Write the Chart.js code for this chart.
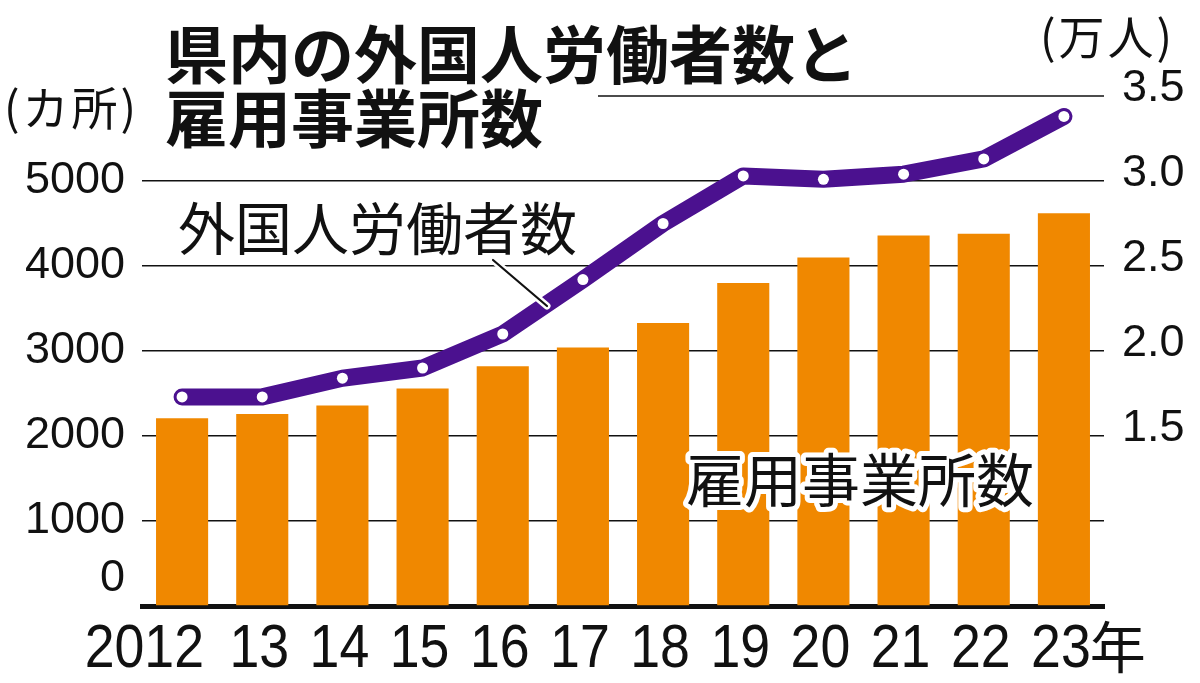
<!DOCTYPE html>
<html><head><meta charset="utf-8">
<script src="https://cdn.jsdelivr.net/npm/chart.js@4.4.1/dist/chart.umd.min.js"></script>
<style>
html,body{margin:0;padding:0;background:#fff;}
canvas{display:block;}
</style></head><body>
<canvas id="c" width="1200" height="683"></canvas>
<script>
const years = ['2012','13','14','15','16','17','18','19','20','21','22','23'];
const yearSuffix = '年';
const establishments = [2210, 2260, 2360, 2560, 2820, 3040, 3330, 3800, 4100, 4360, 4380, 4620];
const workers = [1.73, 1.73, 1.84, 1.90, 2.10, 2.42, 2.75, 3.03, 3.01, 3.04, 3.13, 3.38];
const leftTicks = [0, 1000, 2000, 3000, 4000, 5000];
const rightTicks = [1.5, 2.0, 2.5, 3.0, 3.5];
const titleLines = ['県内の外国人労働者数と', '雇用事業所数'];
const leftUnit = '(カ所)';
const rightUnit = '(万人)';
const lineLabel = '外国人労働者数';
const barLabel = '雇用事業所数';

const INK = '#111';
const CJK = '"Noto Sans CJK JP", "Noto Sans CJK SC", sans-serif';
const NUM = '"Liberation Sans", Arial, sans-serif';

const overlay = {
  id: 'overlay',
  afterDraw(chart) {
    const {ctx, chartArea, scales} = chart;
    const x = scales.x, yL = scales.y;
    ctx.save();
    // partial top grid line (hidden behind title on the left)
    const yTop = yL.getPixelForValue(6000);
    ctx.strokeStyle = INK; ctx.lineWidth = 1.5;
    ctx.beginPath(); ctx.moveTo(598, yTop); ctx.lineTo(chartArea.right, yTop); ctx.stroke();

    // x labels
    ctx.fillStyle = INK;
    ctx.textBaseline = 'alphabetic';
    years.forEach((lab, i) => {
      const cx = x.getPixelForValue(i) - 3;
      ctx.save();
      ctx.font = '61px ' + NUM;
      ctx.translate(cx, 667);
      ctx.scale(0.88, 1);
      if (i === 0) {
        ctx.textAlign = 'right';
        ctx.fillText(lab, 25 / 0.88, 0);
      } else {
        ctx.textAlign = 'center';
        ctx.fillText(lab, 0, 0);
      }
      const w = ctx.measureText(lab).width * 0.88;
      ctx.restore();
      if (i === years.length - 1) {
        ctx.save();
        ctx.font = '56px ' + CJK;
        ctx.textAlign = 'left';
        ctx.textBaseline = 'middle';
        ctx.fillText(yearSuffix, cx + w / 2 - 1, 647);
        ctx.restore();
      }
    });

    // title
    ctx.textAlign = 'left';
    ctx.textBaseline = 'middle';
    ctx.font = 'bold 63px ' + CJK;
    ctx.fillText(titleLines[0], 165, 54);
    ctx.fillText(titleLines[1], 165, 118);

    // units
    ctx.font = '46px ' + CJK;
    ctx.letterSpacing = '3px';
    ctx.fillText(leftUnit, 4, 108);
    ctx.fillText(rightUnit, 1040, 37);
    ctx.letterSpacing = '0px';

    // line label + leader
    ctx.font = '57px ' + CJK;
    ctx.fillText(lineLabel, 178, 228);
    ctx.lineCap = 'round';
    ctx.strokeStyle = '#fff'; ctx.lineWidth = 7;
    ctx.beginPath(); ctx.moveTo(493, 260); ctx.lineTo(547, 306); ctx.stroke();
    ctx.strokeStyle = INK; ctx.lineWidth = 2.2;
    ctx.beginPath(); ctx.moveTo(493, 260); ctx.lineTo(547, 306); ctx.stroke();

    // bar label with white halo
    ctx.font = '58px ' + CJK;
    ctx.lineJoin = 'round';
    ctx.strokeStyle = '#fff'; ctx.lineWidth = 10;
    ctx.strokeText(barLabel, 686, 480);
    ctx.fillStyle = INK;
    ctx.fillText(barLabel, 686, 480);
    ctx.restore();
  }
};

new Chart(document.getElementById('c'), {
  data: {
    labels: years,
    datasets: [
      {
        type: 'line', label: lineLabel, data: workers, yAxisID: 'y2', order: 0,
        borderColor: '#4B118F', borderWidth: 17, borderCapStyle: 'round', borderJoinStyle: 'round',
        tension: 0, fill: false,
        pointRadius: 5.5, pointBackgroundColor: '#fff', pointBorderColor: '#fff', pointBorderWidth: 0,
        pointHoverRadius: 5.5
      },
      {
        type: 'bar', label: barLabel, data: establishments, yAxisID: 'y', order: 1,
        backgroundColor: '#F08800', barPercentage: 0.65, categoryPercentage: 1
      }
    ]
  },
  options: {
    responsive: false, animation: false, devicePixelRatio: 1,
    layout: {padding: {top: 96, bottom: 77, left: 0, right: 0}},
    plugins: {legend: {display: false}, tooltip: {enabled: false}},
    scales: {
      x: {
        type: 'category', offset: true, z: 1,
        grid: {display: false, drawTicks: false},
        border: {display: true, color: INK, width: 5},
        ticks: {display: false},
        afterFit(s) { s.height = 0; }
      },
      y: {
        position: 'left', min: 0, max: 6000, z: 1,
        ticks: {
          stepSize: 1000, padding: 17, color: INK, autoSkip: false,
          font: {family: NUM, size: 45},
          callback(v) {
            if (v === 0) return ['0', ''];
            return leftTicks.includes(v) ? String(v) : '';
          }
        },
        grid: {
          drawTicks: false, lineWidth: 1.5,
          color(c) { const v = c.tick && c.tick.value; return (v === 0 || v === 6000) ? 'rgba(0,0,0,0)' : INK; }
        },
        border: {display: false},
        afterFit(s) { s.width = 142; }
      },
      y2: {
        position: 'right', min: 0.5, max: 3.5,
        ticks: {
          stepSize: 0.5, padding: 18, labelOffset: -7, color: INK, autoSkip: false,
          font: {family: NUM, size: 45},
          callback(v) { return rightTicks.some(t => Math.abs(t - v) < 1e-6) ? v.toFixed(1) : ''; }
        },
        grid: {display: false, drawTicks: false},
        border: {display: false},
        afterFit(s) { s.width = 96; }
      }
    }
  },
  plugins: [overlay]
});
</script>
</body></html>
